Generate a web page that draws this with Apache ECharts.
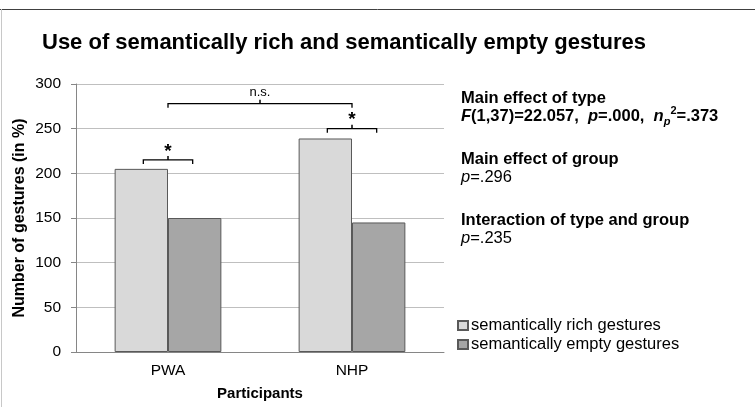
<!DOCTYPE html>
<html>
<head>
<meta charset="utf-8">
<script src="https://cdn.jsdelivr.net/npm/echarts@6/dist/echarts.min.js"></script>
<style>
  html, body { margin: 0; padding: 0; background: #fff; }
  #main { width: 755px; height: 407px; }
</style>
</head>
<body>
<div id="main"></div>
<script>
// data
var groups = ['PWA', 'NHP'];
var seriesNames = ['semantically rich gestures', 'semantically empty gestures'];
var richValues = [205, 239];
var emptyValues = [150, 145];
var yTicks = [0, 50, 100, 150, 200, 250, 300];
// significance brackets (height in axis units)
var pairBracketY = [215, 250];
var pairLabel = ['*', '*'];
var groupBracketY = 278;
var groupLabel = 'n.s.';

var font = 'Liberation Sans, Arial, sans-serif';
var chart = echarts.init(document.getElementById('main'));

var option = {
    animation: false,
    title: {
        text: 'Use of semantically rich and semantically empty gestures',
        left: 42,
        top: 32,
        padding: 0,
        textStyle: { fontFamily: font, fontSize: 22, fontWeight: 'bold', color: '#000' }
    },
    legend: {
        orient: 'vertical',
        left: 457,
        top: 317,
        icon: 'rect',
        itemWidth: 10,
        itemHeight: 9,
        itemGap: 2,
        padding: 0,
        data: seriesNames,
        textStyle: { fontFamily: font, fontSize: 16.5, color: '#000', padding: [0, 0, 0, -2] }
    },
    grid: { left: 76, right: 311, top: 84, bottom: 55 },
    xAxis: {
        type: 'category',
        data: groups,
        name: 'Participants',
        nameLocation: 'middle',
        nameGap: 34,
        nameTextStyle: { fontFamily: font, fontSize: 15, fontWeight: 'bold', color: '#000' },
        axisLine: { lineStyle: { color: '#868686' } },
        axisTick: { length: 5, lineStyle: { color: '#868686' } },
        axisLabel: { fontFamily: font, fontSize: 15.5, color: '#000', margin: 11 }
    },
    yAxis: {
        type: 'value',
        min: yTicks[0],
        max: yTicks[yTicks.length - 1],
        interval: 50,
        name: 'Number of gestures (in %)',
        nameLocation: 'middle',
        nameGap: 48,
        nameTextStyle: { fontFamily: font, fontSize: 16, fontWeight: 'bold', color: '#000' },
        axisLine: { show: true, lineStyle: { color: '#868686' } },
        axisTick: { show: true, length: 5, lineStyle: { color: '#868686' } },
        axisLabel: { fontFamily: font, fontSize: 15.5, color: '#000', margin: 15 },
        splitLine: { lineStyle: { color: '#bfbfbf' } }
    },
    series: [
        {
            name: seriesNames[0],
            type: 'bar',
            data: richValues,
            barGap: 0,
            barCategoryGap: '42%',
            itemStyle: { color: '#d9d9d9', borderColor: '#595959', borderWidth: 1 }
        },
        {
            name: seriesNames[1],
            type: 'bar',
            data: emptyValues,
            barGap: 0,
            barCategoryGap: '42%',
            itemStyle: { color: '#a6a6a6', borderColor: '#595959', borderWidth: 1 }
        }
    ]
};
chart.setOption(option);

// brackets
function bracket(x1, x2, y, label, labelSize, labelDrop) {
    var c = '#000';
    var xm = (x1 + x2) / 2;
    return [
        { type: 'polyline', shape: { points: [[x1, y + 4], [x1, y], [x2, y], [x2, y + 4]] }, style: { stroke: c, lineWidth: 1.3, fill: null } },
        { type: 'line', shape: { x1: xm, y1: y, x2: xm, y2: y - 4 }, style: { stroke: c, lineWidth: 1.5 } },
        { type: 'text', x: xm, y: y - 5 + labelDrop, style: { text: label, fontFamily: font, fontSize: labelSize, fontWeight: label === '*' ? 'bold' : 'normal', fill: '#000', align: 'center', verticalAlign: 'bottom' } }
    ];
}

var els = [];
var c0 = chart.convertToPixel({ xAxisIndex: 0 }, groups[0]);
var c1 = chart.convertToPixel({ xAxisIndex: 0 }, groups[1]);
var band = c1 - c0;
var barW = band * (1 - 0.42) / 2;
groups.forEach(function (g, i) {
    var cx = chart.convertToPixel({ xAxisIndex: 0 }, g);
    var y = chart.convertToPixel({ yAxisIndex: 0 }, pairBracketY[i]);
    els = els.concat(bracket(cx - barW / 2 + 2, cx + barW / 2 - 2, y, pairLabel[i], 19, 6));
});
var gy = chart.convertToPixel({ yAxisIndex: 0 }, groupBracketY);
els = els.concat(bracket(c0, c1, gy, groupLabel, 13, 0));

// frame lines
els.push({ type: 'line', shape: { x1: 0, y1: 9.5, x2: 755, y2: 9.5 }, style: { stroke: '#404040', lineWidth: 1 } });
els.push({ type: 'line', shape: { x1: 1.5, y1: 9, x2: 1.5, y2: 407 }, style: { stroke: '#c8c8c8', lineWidth: 1 } });

// statistics text
var tx = 461;
var fs = 16.5;
var bold = { fontFamily: font, fontSize: fs, fontWeight: 'bold', fill: '#000' };
function statText(y, text, rich) {
    return { type: 'text', x: tx, y: y, style: Object.assign({ text: text, verticalAlign: 'middle', rich: rich || {} }, bold) };
}
var richStat = {
    b: { fontFamily: font, fontSize: fs, fontWeight: 'bold', lineHeight: 22, verticalAlign: 'middle' },
    bi: { fontFamily: font, fontSize: fs, fontWeight: 'bold', fontStyle: 'italic', lineHeight: 22, verticalAlign: 'middle' },
    sub: { fontFamily: font, fontSize: 11, fontWeight: 'bold', fontStyle: 'italic', lineHeight: 11, verticalAlign: 'bottom' },
    sup: { fontFamily: font, fontSize: 11, fontWeight: 'bold', lineHeight: 17, verticalAlign: 'top' },
    i: { fontFamily: font, fontSize: fs, fontStyle: 'italic', lineHeight: 22, verticalAlign: 'middle' },
    n: { fontFamily: font, fontSize: fs, lineHeight: 22, verticalAlign: 'middle' }
};
els.push(statText(98, 'Main effect of type'));
els.push(statText(116, '{bi|F}{b|(1,37)=22.057,  }{bi|p}{b|=.000,  }{bi|n}{sub|p}{sup|2}{b|=.373}', richStat));
els.push(statText(159, 'Main effect of group'));
els.push(statText(177, '{i|p}{n|=.296}', richStat));
els.push(statText(220, 'Interaction of type and group'));
els.push(statText(238, '{i|p}{n|=.235}', richStat));

chart.setOption({ graphic: { elements: els } });
</script>
</body>
</html>
